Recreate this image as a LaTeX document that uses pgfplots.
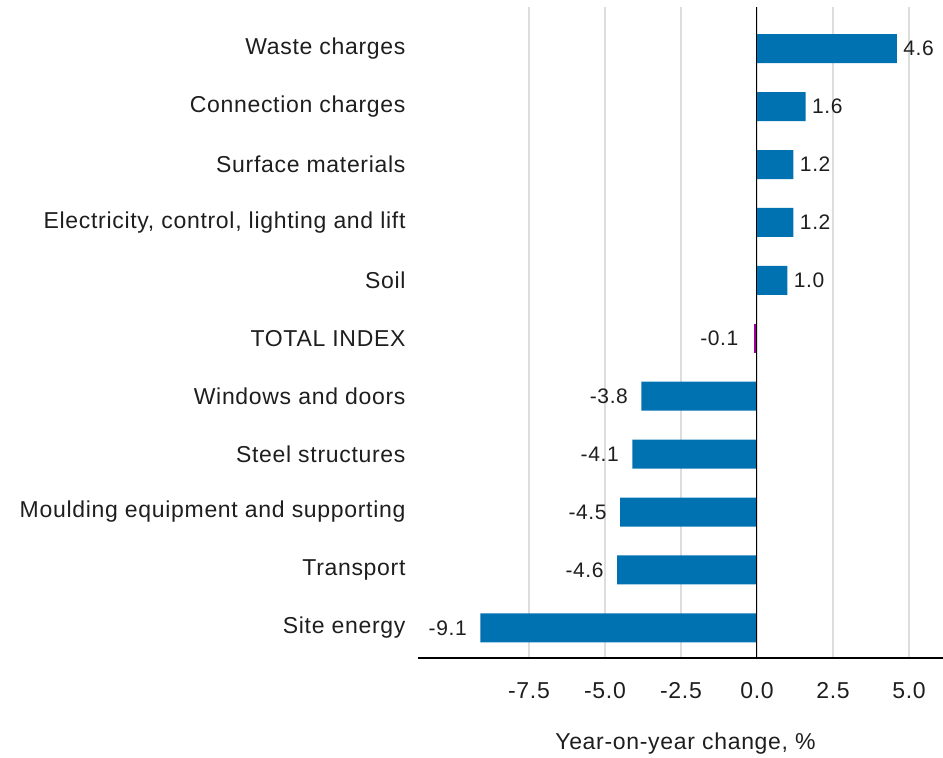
\documentclass[border=0pt]{standalone}
\usepackage{fontspec}
\setmainfont{Liberation Sans}[LetterSpace=3]
\usepackage{pgfplots}
\pgfplotsset{compat=1.18}
\definecolor{barblue}{RGB}{0,114,178}
\definecolor{barpurple}{RGB}{160,0,160}
\definecolor{gridgray}{RGB}{221,221,221}
\definecolor{txt}{RGB}{30,30,30}
\begin{document}
\begin{tikzpicture}[x=1pt,y=1pt]
\useasboundingbox (-418,-100) rectangle (525,658);
\begin{axis}[
  at={(0,0)}, anchor=south west,
  scale only axis, width=525pt, height=651pt,
  xmin=-11.15, xmax=6.12, ymin=-0.52, ymax=10.72,
  axis x line*=bottom, axis y line*=left,
  x axis line style={black, line width=1.2pt},
  y axis line style={draw=none},
  major tick length=0pt,
  xtick={-7.5,-5,-2.5,0,2.5,5},
  xmajorgrids, grid style={gridgray, line width=1.4pt},
  ytick={0,...,10},
  yticklabels={Site energy, Transport, Moulding equipment and supporting, Steel structures, Windows and doors, TOTAL INDEX, Soil, {Electricity, control, lighting and lift}, Surface materials, Connection charges, Waste charges},
  /pgf/number format/assume math mode=true,
  xticklabel style={/pgf/number format/fixed, /pgf/number format/fixed zerofill, /pgf/number format/precision=1, yshift=-21pt},
  yticklabel style={xshift=-9pt},
  tick label style={font=\fontsize{23}{27}\selectfont, text=txt},
  xlabel={Year-on-year change, \%},
  xlabel style={font=\fontsize{23}{27}\selectfont, text=txt, at={(axis description cs:0.5,0)}, anchor=north, yshift=-71pt, xshift=5pt},
  bar width=29pt,
  point meta=x,
  nodes near coords,
  nodes near coords style={font=\fontsize{21}{25}\selectfont, text=txt, /pgf/number format/fixed, /pgf/number format/fixed zerofill, /pgf/number format/precision=1},
  clip=false,
]
\addplot[xbar, bar shift=0pt, fill=barblue, draw=none, nodes near coords style={anchor=west, xshift=3pt}] coordinates {(1.0,6) (1.2,7) (1.2,8) (1.6,9) (4.6,10)};
\addplot[xbar, bar shift=0pt, fill=barblue, draw=none, nodes near coords style={anchor=east, xshift=-10pt}] coordinates {(-9.1,0) (-4.6,1) (-4.5,2) (-4.1,3) (-3.8,4)};
\addplot[xbar, bar shift=0pt, fill=barpurple, draw=none, nodes near coords style={anchor=east, xshift=-12pt}] coordinates {(-0.1,5)};
\draw[black, line width=1pt] (axis cs:0,-0.52) -- (axis cs:0,10.72);
\end{axis}
\end{tikzpicture}
\end{document}
